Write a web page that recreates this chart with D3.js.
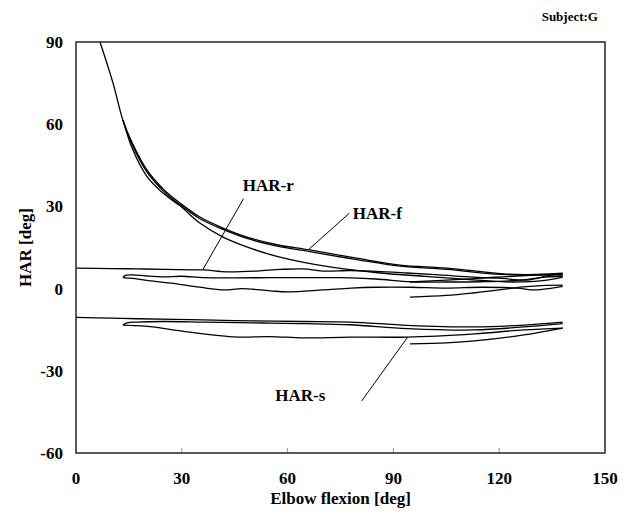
<!DOCTYPE html>
<html><head><meta charset="utf-8">
<script src="https://cdn.jsdelivr.net/npm/d3@7"></script>
<style>body{margin:0;background:#fff}svg{display:block}text{font-family:"Liberation Serif","Times New Roman",serif;font-weight:bold;fill:#000}</style>
</head><body>
<script>
// tick labels
const xTicks = [0, 30, 60, 90, 120, 150];
const yTicks = [-60, -30, 0, 30, 60, 90];
// series: [elbow flexion deg, HAR deg]
const harF1 = [[6.8,90],[10.5,75],[13.3,61.5],[16,53],[20.1,43.3],[25,36],[29.5,31.2],[35,26.2],[41.7,22.1],[48.5,18.8],[57,16],[66.3,14.1],[80,11],[91.9,8.6],[105.2,7.5],[122.2,5.3],[138,5.0]];
const harF2 = [[13.3,61.5],[16,52.3],[20.1,42.6],[25,35.3],[29.5,30.6],[35,25.6],[41.7,21.6],[48.5,18.3],[57,15.5],[66.3,13.5],[80,10.5],[91.9,8.2],[105.2,7],[122.2,5.1],[138,5.6]];
const harF3 = [[13.3,61.5],[16,51],[20.1,41],[25,34.5],[29.5,30.2],[35,24],[41.7,18.8],[50,14.5],[57.8,11.5],[72,7.9],[86.2,5.7],[105.2,3.9],[115,3],[123.9,2.4],[133,3],[138,4.2]];
const harF4 = [[94.7,2.4],[105,3.1],[115,3.8],[125,4.6],[138,5.3]];
const harR1 = [[0,7.5],[10,7.3],[17.3,7.2],[25,7],[36,6.8],[42.8,6.1],[51.3,6.4],[58,7],[64.4,7.2],[70,6.4],[77.7,6.6],[85,6.3],[93.8,5.7],[103,5],[112.6,4.2],[120,3.8],[127.9,3.1],[135,5],[138,5]];
const harR2 = [[13.3,4],[14,4.8],[16,5],[20,4.6],[25,4.3],[30,4.5],[36,4.0],[45,3.9],[55,4],[65,4],[75,4],[85,3.5],[95,2.5],[105,2.4],[115,2.5],[125,3],[133,4.2],[138,4.5]];
const harR3 = [[13.3,4],[16,3.7],[20,3],[27,2],[35,0.5],[42,-0.5],[47,0],[55,-0.8],[60,-1.2],[70,-0.5],[78,0.2],[85,0.5],[95,0.5],[105,0.2],[115,0.5],[125,0.2],[130,-0.5],[135,0.2],[138,0.8]];
const harR4 = [[94.7,-3.1],[105,-2.5],[112.6,-1.6],[120,-0.5],[126.7,0.6],[133,1.2],[138,1.3]];
const harS1 = [[0,-10.5],[10,-10.8],[17.3,-11],[36,-11.4],[50,-11.8],[64.4,-12],[77.7,-12.2],[94,-13.4],[113,-14],[127,-13.3],[138,-12.2]];
const harS2 = [[13.3,-13.3],[14.5,-12.5],[17.3,-12.2],[25,-12],[36,-12.2],[50,-12.5],[55,-12.6],[65,-12.8],[77.7,-13.2],[94,-14.6],[113,-15.1],[127,-14],[138,-12.8]];
const harS3 = [[13.3,-13.3],[17.3,-13.5],[21.7,-14],[31.5,-15.8],[45.6,-17.7],[55,-17.5],[64.4,-18],[77.7,-17.7],[94,-17.7],[113,-16.5],[127,-15.1],[138,-14.4]];
const harS4 = [[94.7,-20.2],[105,-19.8],[113,-19.1],[127,-16.9],[138,-14.4]];
const seriesList = [harF1, harF2, harF3, harF4, harR1, harR2, harR3, harR4, harS1, harS2, harS3, harS4];
// annotations: label, label anchor point [deg, HAR], pointer end [deg, HAR]
const labels = ["HAR-r", "HAR-f", "HAR-s"];
const labelPos = [[47.3, 35.5], [78.5, 25.5], [56.5, -41]];
const pointerFrom = [[47.5, 32.8], [77.5, 27.5], [81, -41]];
const pointerTo = [[36, 7], [66, 14.3], [94, -17.8]];

const W = 633, H = 514;
const m = {l: 76, r: 28, t: 42, b: 61};
const svg = d3.select("body").append("svg").attr("width", W).attr("height", H);
const x = d3.scaleLinear().domain([0, 150]).range([m.l, W - m.r]);
const y = d3.scaleLinear().domain([-60, 90]).range([H - m.b, m.t]);

// bottom inner ticks
svg.append("g").selectAll("line").data(xTicks.slice(1, -1)).join("line")
  .attr("x1", d => x(d)).attr("x2", d => x(d))
  .attr("y1", y(-60)).attr("y2", y(-60) - 5)
  .attr("stroke", "#999").attr("stroke-width", 1);

const line = d3.line().x(d => x(d[0])).y(d => y(d[1])).curve(d3.curveCatmullRom.alpha(0.5));
svg.append("g").selectAll("path").data(seriesList).join("path")
  .attr("d", line).attr("fill", "none").attr("stroke", "#000").attr("stroke-width", 1.3);

// frame
svg.append("rect").attr("x", x(0)).attr("y", y(90))
  .attr("width", x(150) - x(0)).attr("height", y(-60) - y(90))
  .attr("fill", "none").attr("stroke", "#333").attr("stroke-width", 1.6);

// tick labels
svg.append("g").selectAll("text").data(yTicks).join("text")
  .attr("x", x(0) - 13).attr("y", d => y(d) + 6)
  .attr("text-anchor", "end").attr("font-size", 17).text(d => d);
svg.append("g").selectAll("text").data(xTicks).join("text")
  .attr("x", d => x(d)).attr("y", y(-60) + 31)
  .attr("text-anchor", "middle").attr("font-size", 17).text(d => d);

// axis titles
svg.append("text").attr("x", x(75)).attr("y", 504).attr("text-anchor", "middle")
  .attr("font-size", 17).text("Elbow flexion [deg]");
svg.append("text").attr("transform", `translate(31,${y(15)}) rotate(-90)`)
  .attr("text-anchor", "middle").attr("font-size", 17).text("HAR [deg]");
svg.append("text").attr("x", 598).attr("y", 21).attr("text-anchor", "end")
  .attr("font-size", 13).text("Subject:G");

// annotations
svg.append("g").selectAll("line").data(labels).join("line")
  .attr("x1", (d, i) => x(pointerFrom[i][0])).attr("y1", (d, i) => y(pointerFrom[i][1]))
  .attr("x2", (d, i) => x(pointerTo[i][0])).attr("y2", (d, i) => y(pointerTo[i][1]))
  .attr("stroke", "#000").attr("stroke-width", 1);
svg.append("g").selectAll("text").data(labels).join("text")
  .attr("x", (d, i) => x(labelPos[i][0])).attr("y", (d, i) => y(labelPos[i][1]))
  .attr("font-size", 17).text(d => d);
</script>
</body></html>
